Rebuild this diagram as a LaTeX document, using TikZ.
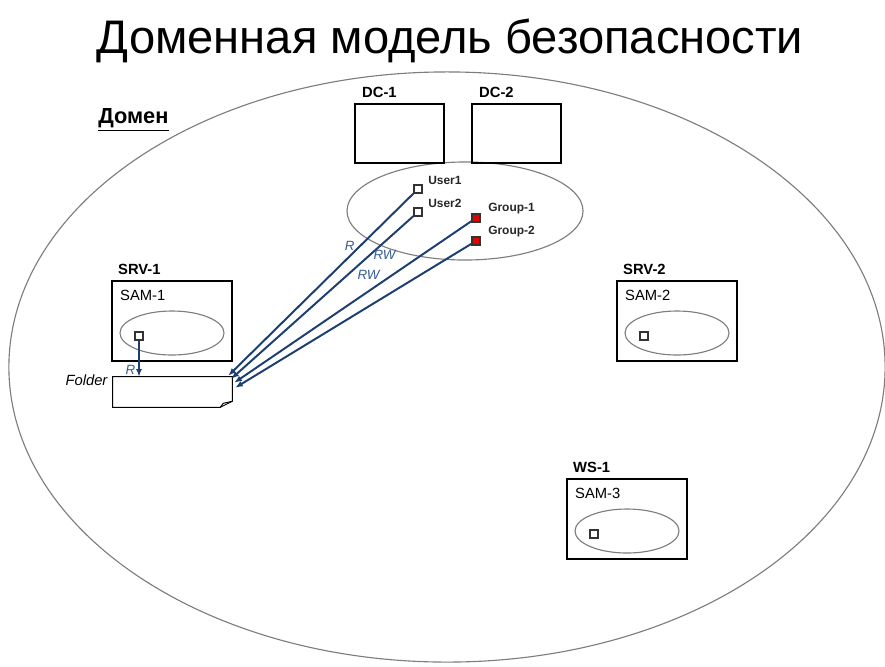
\documentclass[tikz,border=0pt]{standalone}
\usepackage{fontspec}
\setmainfont{Liberation Sans}
\usepackage{tikz}
\usetikzlibrary{arrows.meta, positioning, shapes, shapes.geometric, calc}

\definecolor{arrowBlue}{RGB}{28,62,112}
\definecolor{rightsBlue}{RGB}{52,92,150}
\definecolor{groupRed}{RGB}{230,0,0}
\definecolor{lineGray}{RGB}{125,125,125}

\begin{document}
\begin{tikzpicture}[
    x=0.025cm, y=-0.025cm,
    hostBox/.style = {
        draw,
        line width=1.5pt,
        minimum width=3cm,
        minimum height=2cm,
        inner sep=0,
    },
    dcBox/.style = {
        hostBox,
        minimum width=2.225cm,
        minimum height=1.475cm,
    },
    hostTitle/.style = {
        anchor=south west,
        inner sep=0,
        font=\bfseries\fontsize{10.5}{12}\selectfont,
    },
    samTitle/.style = {
        anchor=north west,
        inner sep=0,
        font=\fontsize{10.5}{12}\selectfont,
    },
    samEllipse/.style = {
        draw=lineGray,
        ellipse,
        line width=0.8pt,
        minimum width=2.6cm,
        minimum height=1.1cm,
    },
    account/.style = {
        draw=black!80,
        fill=white,
        line width=0.8pt,
        minimum size=0.2cm,
        inner sep=0,
    },
    group/.style = {
        account,
        fill=groupRed,
    },
    accountText/.style = {
        anchor=west,
        inner sep=0,
        text=black!85,
        font=\bfseries\fontsize{8.5}{10}\selectfont,
    },
    rights/.style = {
        text=rightsBlue,
        inner sep=1pt,
        font=\itshape\fontsize{9.5}{11}\selectfont,
    },
    access/.style = {
        -{Latex[length=1.9mm, width=1.5mm]},
        draw=arrowBlue,
        line width=1.4pt,
    },
]

\newcommand{\host}[4]{
    \node[hostBox] (#1) at (#4) {};
    \node[hostTitle] (#1 title) at ($(#1.north west)+(7,-5)$) {#2};
    \node[samTitle] (#1 sam) at ($(#1.north west)+(9,10)$) {#3};
    \node[samEllipse] (#1 ellipse) at ($(#1)+(0,12)$) {};
    \node[account] (#1 user) at ($(#1 ellipse)+(-33,3)$) {};
}

\useasboundingbox (0,0) rectangle (885,666);

\node (title) at (450,41) {\fontsize{33.5}{38}\selectfont Доменная модель безопасности};

\draw[lineGray, line width=0.8pt] (447,367) ellipse [x radius=10.95cm, y radius=7.375cm];
\node[anchor=west, inner sep=0, font=\bfseries\fontsize{15.5}{18}\selectfont] (domain) at (98,120) {\underline{Домен}};

\node[draw=lineGray, ellipse, line width=0.8pt, minimum width=5.9cm, minimum height=2.45cm] (accounts) at (465,211) {};

\node[dcBox] (DC1) at (399.5,133.5) {};
\node[hostTitle] (DC1 title) at ($(DC1.north west)+(8,-5)$) {DC-1};
\node[dcBox] (DC2) at (516.5,133.5) {};
\node[hostTitle] (DC2 title) at ($(DC2.north west)+(8,-5)$) {DC-2};

\node[account] (user1) at (418,189) {};
\node[accountText] (user1 text) at ($(user1)+(10,-9)$) {User1};
\node[account] (user2) at (418,212) {};
\node[accountText] (user2 text) at ($(user2)+(10,-9)$) {User2};
\node[group] (group1) at (476,218) {};
\node[accountText] (group1 text) at ($(group1)+(12,-9)$) {Group-1};
\node[group] (group2) at (476,241) {};
\node[accountText] (group2 text) at ($(group2)+(12,-9)$) {Group-2};

\host{SRV1}{SRV-1}{SAM-1}{172,321}
\host{SRV2}{SRV-2}{SAM-2}{677,321}
\host{WS1}{WS-1}{SAM-3}{627,519}

\node[minimum width=2.975cm, minimum height=0.75cm, inner sep=0] (Folder) at (172.5,392) {};
\draw[line width=0.7pt, fill=white]
    (Folder.north west) -- (Folder.north east)
    -- ($(Folder.south east)+(0,-6)$)
    -- ($(Folder.south east)+(-12,0)$)
    -- (Folder.south west) -- cycle;
\draw[line width=0.7pt]
    ($(Folder.south east)+(-12,0)$) -- ($(Folder.south east)+(-9,-4)$)
    -- ($(Folder.south east)+(0,-6)$);
\node[anchor=east, inner sep=0, font=\itshape\fontsize{10.5}{12}\selectfont] (Folder text)
    at ($(Folder.north west)+(-5,4)$) {Folder};

\coordinate (in1) at ($(Folder.north east)+(-4,-1)$);
\coordinate (in2) at ($(Folder.north east)+(-1,2)$);
\coordinate (in3) at ($(Folder.north east)+(2,6)$);
\coordinate (in4) at ($(Folder.north east)+(3,11)$);

\draw[access] (user1) -- (in1) node[rights, pos=0.29, left=2pt] {R};
\draw[access] (user2) -- (in2) node[rights, pos=0.24, right=1pt] {RW};
\draw[access] (group1) -- (in3) node[rights, pos=0.33, left=8pt] {RW};
\draw[access] (group2) -- (in4);

\draw[access] (SRV1 user) -- (SRV1 user |- Folder.north)
    node[rights, pos=0.8, left=1pt] {R};

\end{tikzpicture}
\end{document}
